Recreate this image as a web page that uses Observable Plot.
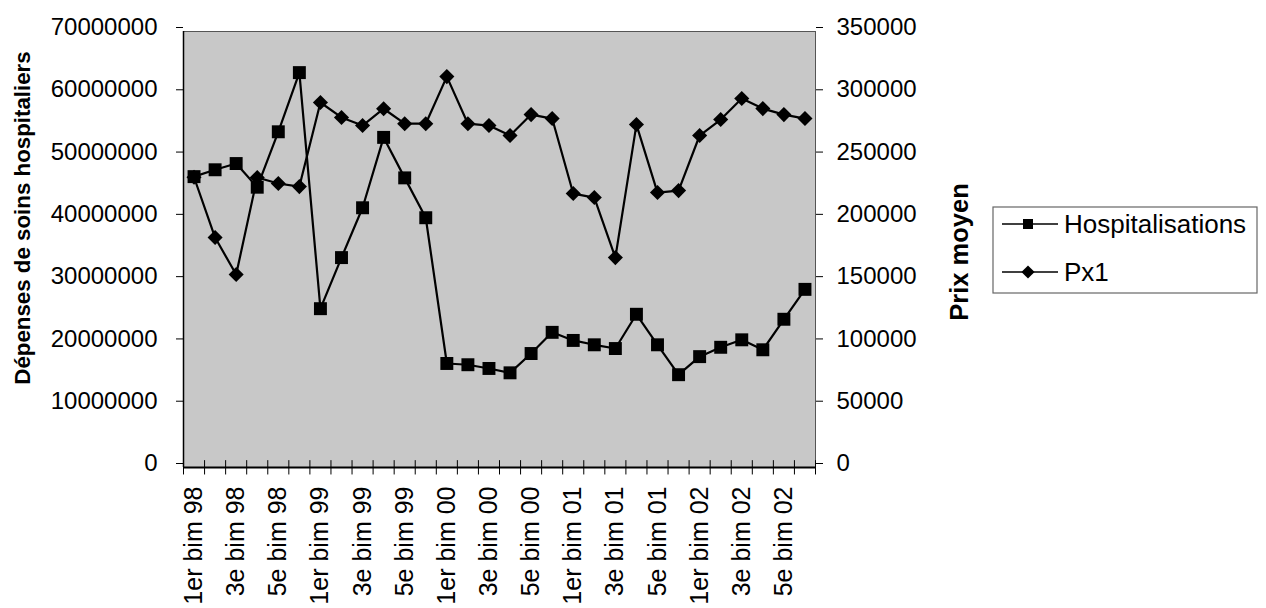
<!DOCTYPE html>
<html>
<head>
<meta charset="utf-8">
<script src="https://cdn.jsdelivr.net/npm/d3@7"></script>
<script src="https://cdn.jsdelivr.net/npm/@observablehq/plot@0.6"></script>
<style>
  html, body { margin: 0; padding: 0; background: #fff; }
  #chart { width: 1266px; height: 608px; }
</style>
</head>
<body>
<div id="chart"></div>
<script>
// Categories: 6 bimesters per year, 1998–2002
const years = ["98", "99", "00", "01", "02"];
const bims = ["1er", "2e", "3e", "4e", "5e", "6e"];
const categories = years.flatMap(y => bims.map(b => `${b} bim ${y}`));

// Dépenses de soins hospitaliers (left axis)
const hospitalisations = [
  46.7e6, 47.8e6, 48.8e6, 45.0e6, 53.9e6, 63.4e6,
  25.5e6, 33.7e6, 41.7e6, 53.0e6, 46.5e6, 40.1e6,
  16.7e6, 16.5e6, 15.9e6, 15.2e6, 18.3e6, 21.7e6,
  20.4e6, 19.7e6, 19.1e6, 24.6e6, 19.7e6, 14.9e6,
  17.8e6, 19.3e6, 20.5e6, 18.9e6, 23.8e6, 28.6e6
];

// Prix moyen (right axis)
const px1 = [
  233000, 184600, 154900, 232800, 228000, 225500,
  293000, 281000, 274500, 288000, 276000, 276000,
  313800, 276000, 274500, 266500, 283300, 280100,
  219900, 216700, 168500, 275300, 220700, 222300,
  266500, 279300, 296200, 288100, 283300, 280100
];

const leftTicks = [0, 10000000, 20000000, 30000000, 40000000, 50000000, 60000000, 70000000];
const leftMax = 70000000;
const rightMax = 350000;
const ratio = leftMax / rightMax; // maps right-axis values onto left scale

const seriesNames = ["Hospitalisations", "Px1"];

const idx = categories.map((_, i) => i);
const labelIdx = idx.filter(i => i % 2 === 0);
const boundaries = [...idx.map(i => i - 0.5), categories.length - 0.5];

const FONT = "'Liberation Sans', Arial, Helvetica, sans-serif";

const chart = Plot.plot({
  width: 1266,
  height: 608,
  marginLeft: 183,
  marginRight: 451,
  marginTop: 31,
  marginBottom: 141,
  style: { fontFamily: FONT, fontSize: "24px", color: "#000", background: "#fff", overflow: "visible" },
  x: { type: "linear", domain: [-0.5, categories.length - 0.5] },
  y: { domain: [0, leftMax] },
  marks: [
    Plot.frame({ fill: "#c8c8c8", stroke: "#555", strokeWidth: 1 }),
    // axis lines
    Plot.ruleY([0], { stroke: "#000", strokeWidth: 2 }),
    Plot.ruleX([-0.5], { stroke: "#000", strokeWidth: 1.5 }),
    // left axis
    Plot.axisY(leftTicks, {
      anchor: "left", tickSize: 7, tickPadding: 19, dy: -4,
      tickFormat: d => String(d), fontSize: 24, label: null, stroke: "#000"
    }),
    // right axis (values scaled onto left scale)
    Plot.axisY(leftTicks, {
      anchor: "right", tickSize: 7, tickPadding: 14, dy: -4,
      tickFormat: d => String(d / ratio), fontSize: 24, label: null
    }),
    // x boundary ticks (crossing)
    Plot.ruleX(boundaries, { x: d => d, y1: -1.2e6, y2: 1.1e6, stroke: "#000", strokeWidth: 1 }),
    // x labels
    Plot.axisX(labelIdx, {
      anchor: "bottom", tickSize: 0, tickPadding: 19, tickRotate: -90,
      tickFormat: i => categories[i], fontSize: 25, label: null
    }),
    // series
    Plot.line(idx, { x: i => i, y: i => hospitalisations[i], stroke: "#000", strokeWidth: 2.2 }),
    Plot.dot(idx, { x: i => i, y: i => hospitalisations[i], symbol: "square", r: 7.3, fill: "#000", stroke: "none" }),
    Plot.line(idx, { x: i => i, y: i => px1[i] * ratio, stroke: "#000", strokeWidth: 2.2 }),
    Plot.dot(idx, { x: i => i, y: i => px1[i] * ratio, symbol: "diamond2", r: 6.8, fill: "#000", stroke: "none" })
  ]
});

document.getElementById("chart").appendChild(chart);

// Axis titles and legend
const svg = d3.select(chart);
svg.append("text")
  .attr("transform", "translate(30,218) rotate(-90)")
  .attr("text-anchor", "middle")
  .attr("font-family", FONT).attr("font-size", 22.3).attr("font-weight", "bold")
  .attr("fill", "#000")
  .text("Dépenses de soins hospitaliers");

svg.append("text")
  .attr("transform", "translate(968,252) rotate(-90)")
  .attr("text-anchor", "middle")
  .attr("font-family", FONT).attr("font-size", 25.5).attr("font-weight", "bold")
  .attr("fill", "#000")
  .text("Prix moyen");

const legendSymbols = [
  { symbol: d3.symbolSquare, size: 100 },
  { symbol: d3.symbolDiamond2, size: 110 }
];
const lg = svg.append("g").attr("text-anchor", "start");
lg.append("rect").attr("x", 993).attr("y", 207).attr("width", 264).attr("height", 86)
  .attr("fill", "#fff").attr("stroke", "#666").attr("stroke-width", 1.2);
seriesNames.forEach((name, k) => {
  const cy = 224 + k * 48;
  lg.append("line").attr("x1", 1002).attr("x2", 1058).attr("y1", cy).attr("y2", cy)
    .attr("stroke", "#000").attr("stroke-width", 1.5);
  lg.append("path").attr("d", d3.symbol(legendSymbols[k].symbol, legendSymbols[k].size)())
    .attr("transform", `translate(1028,${cy})`).attr("fill", "#000");
  lg.append("text").attr("x", 1064).attr("y", cy).attr("dy", "0.35em")
    .attr("text-anchor", "start")
    .attr("font-family", FONT).attr("font-size", 26).attr("fill", "#000")
    .text(name);
});
</script>
</body>
</html>
